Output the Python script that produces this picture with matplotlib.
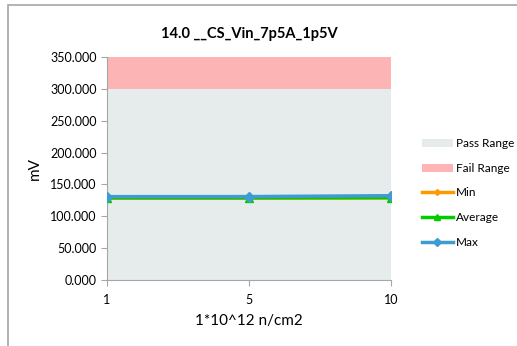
import matplotlib
matplotlib.use("Agg")
import matplotlib.pyplot as plt
from matplotlib.patches import Rectangle, Patch
from matplotlib.lines import Line2D

categories = ["1", "5", "10"]
pass_range = [300, 300, 300]
fail_top = [350, 350, 350]
min_vals = [128.5, 128.5, 128.8]
avg_vals = [129.0, 129.0, 129.3]
max_vals = [130.8, 130.9, 132.3]
yticks = [0, 50, 100, 150, 200, 250, 300, 350]

plt.rcParams['font.family'] = ['Lato', 'DejaVu Sans']

fig = plt.figure(figsize=(5.17, 3.46), dpi=100)
fig.patches.append(Rectangle((8/517, -0.1), 1.2, 1 - 5/346 + 0.1, transform=fig.transFigure,
                             fill=False, edgecolor='#a6a6a6', linewidth=1.2))
ax = fig.add_axes([107/517, 1-280/346, (391-107)/517, (280-57)/346])

x = list(range(len(categories)))
ax.fill_between(x, 0, pass_range, color='#e6eceb', linewidth=0)
ax.fill_between(x, pass_range, fail_top, color='#fdb4b4', linewidth=0)
ax.plot(x, min_vals, color='#ff9900', linewidth=2.5, marker='D', markersize=4, zorder=3)
ax.plot(x, avg_vals, color='#00cc00', linewidth=2.5, marker='^', markersize=6, zorder=4)
ax.plot(x, max_vals, color='#3d9cd2', linewidth=2.5, marker='D', markersize=5, zorder=5)

ax.set_xlim(0, 2)
ax.set_ylim(0, 350)
ax.set_xticks(x)
ax.set_xticklabels(categories, fontsize=9)
ax.set_yticks(yticks)
ax.set_yticklabels([f"{v:.3f}" for v in yticks], fontsize=9)
for s in ['top', 'right']:
    ax.spines[s].set_visible(False)
for s in ['left', 'bottom']:
    ax.spines[s].set_color('#a6a6a6')
ax.tick_params(axis='both', color='#a6a6a6', length=4, direction='out')
ax.tick_params(axis='x', pad=6)
ax.set_xlabel("1*10^12 n/cm2", fontsize=11, labelpad=6)
ax.set_ylabel("mV", fontsize=11, labelpad=6)
ax.set_title("14.0 __CS_Vin_7p5A_1p5V", fontsize=10.5, fontweight='bold', pad=14)

handles = [Patch(facecolor='#e6eceb', edgecolor='none'),
           Patch(facecolor='#fdb4b4', edgecolor='none'),
           Line2D([], [], color='#ff9900', linewidth=2.5, marker='D', markersize=3),
           Line2D([], [], color='#00cc00', linewidth=2.5, marker='^', markersize=5),
           Line2D([], [], color='#3d9cd2', linewidth=2.5, marker='D', markersize=4)]
labels = ["Pass Range", "Fail Range", "Min", "Average", "Max"]
fig.legend(handles, labels, loc='center left', bbox_to_anchor=(418/517, 1-193/346),
           frameon=False, fontsize=8.5, handlelength=2.7, handletextpad=0.25,
           labelspacing=1.15, borderaxespad=0, borderpad=0.3)

fig.savefig("out.png", dpi=100)
